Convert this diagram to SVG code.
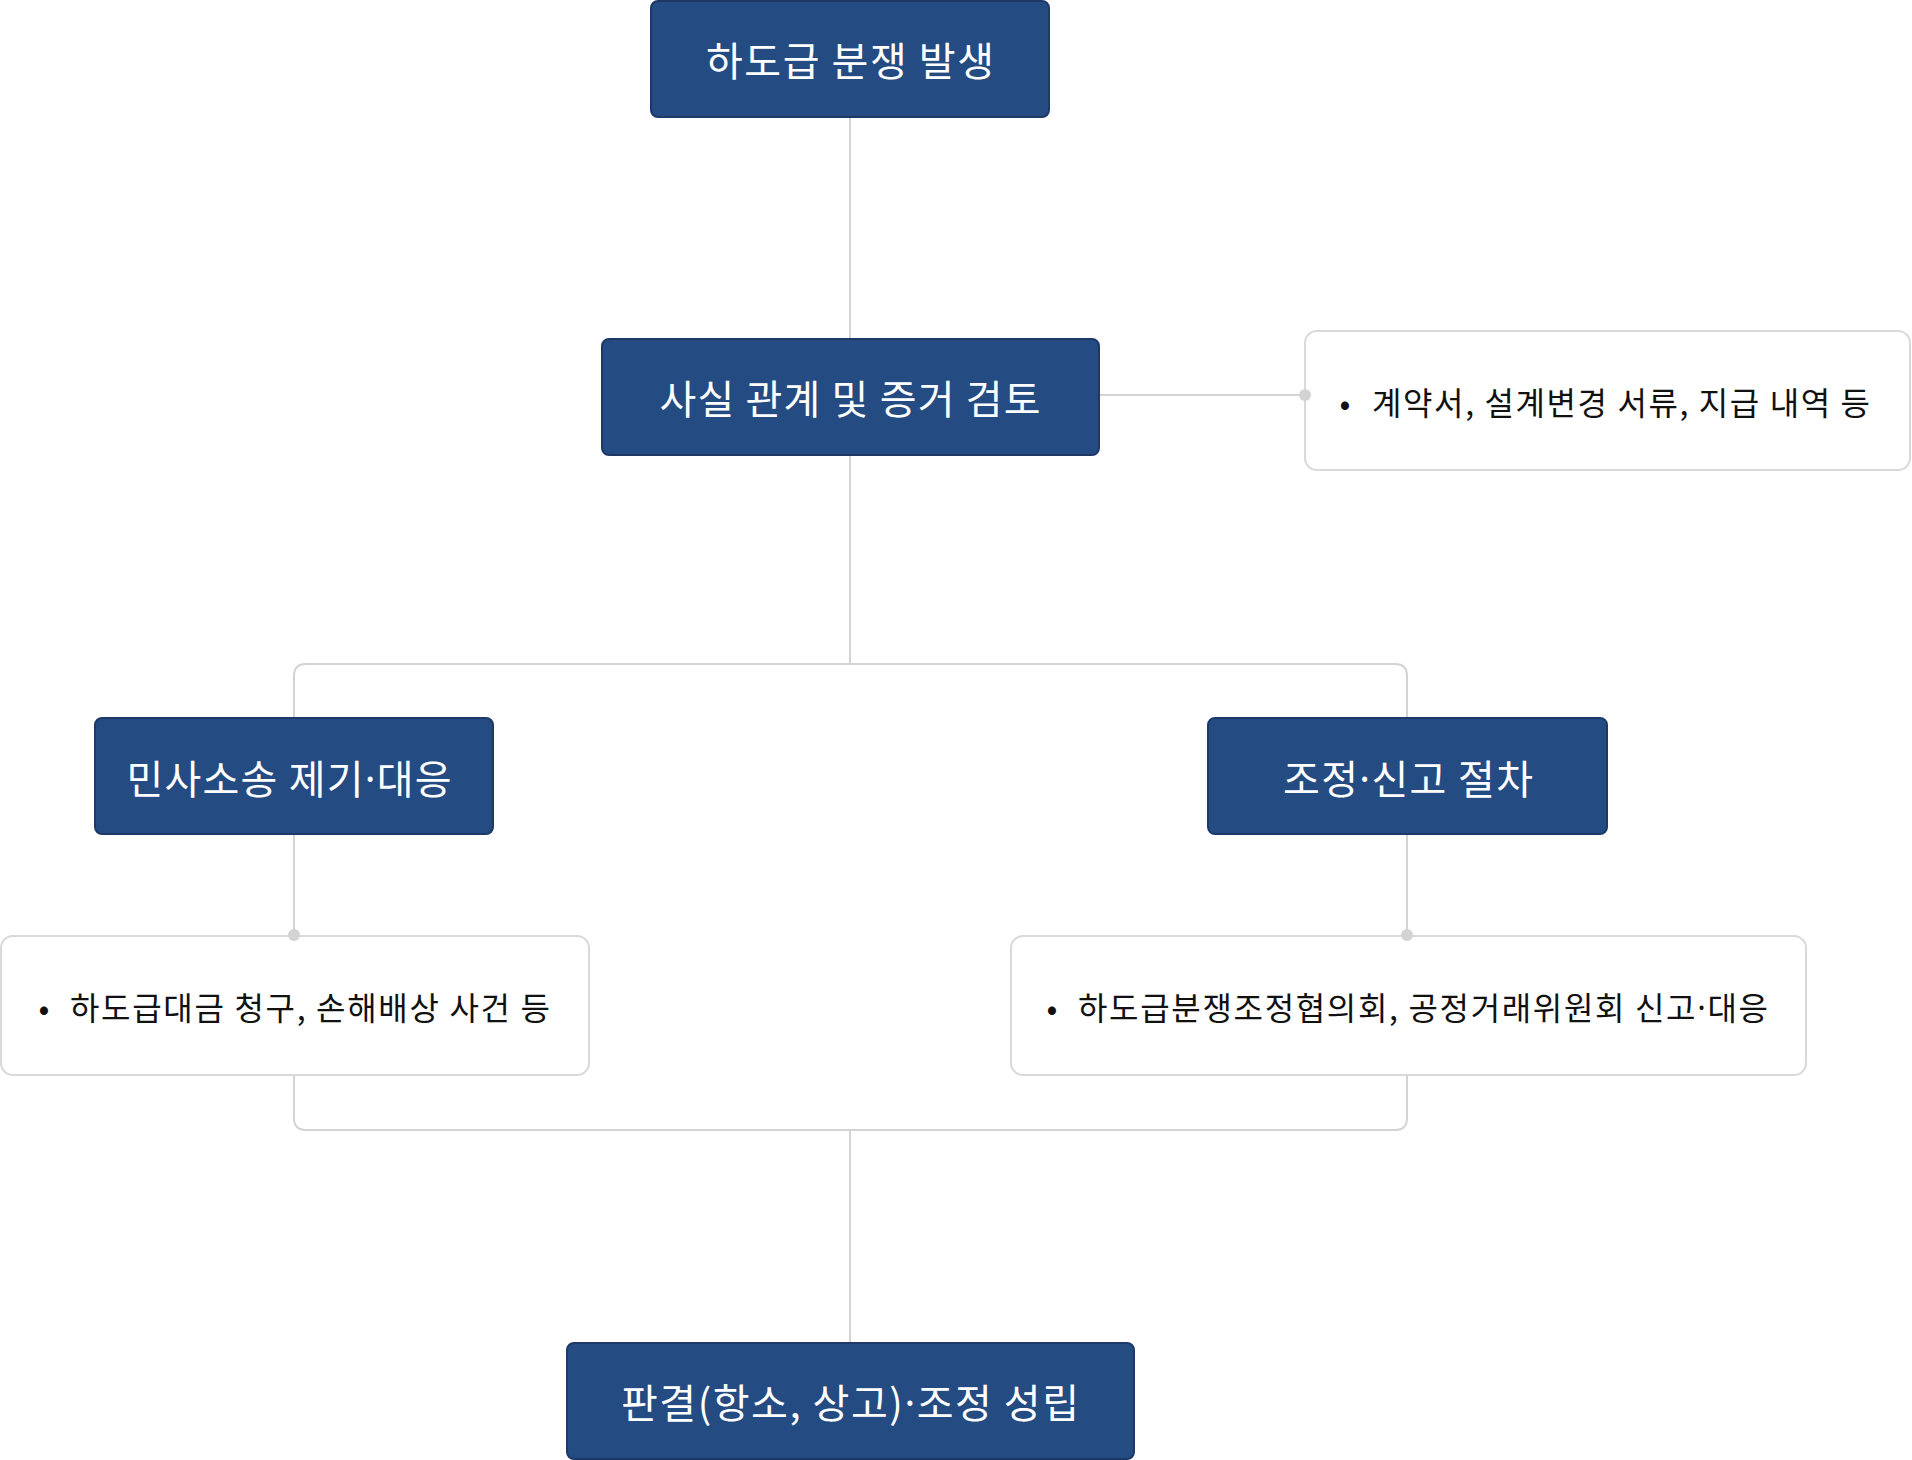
<svg xmlns="http://www.w3.org/2000/svg" width="1912" height="1460" viewBox="0 0 1912 1460">
<style>
.node rect{fill:#254b83;stroke:#1c3967;stroke-width:2}
.node text{fill:#ffffff;font-family:"Noto Sans CJK KR","Noto Sans",sans-serif;font-size:40px;text-anchor:middle;dominant-baseline:central}
.desc rect{fill:#ffffff;stroke:#d9d9d9;stroke-width:2}
.desc text{fill:#111111;font-family:"Noto Sans CJK KR","Noto Sans",sans-serif;font-size:32px;dominant-baseline:central}
.desc .b{text-anchor:middle}
.d{font-family:"Noto Sans","Liberation Sans",sans-serif}
.conn path{fill:none;stroke:#d3d3d3;stroke-width:2}
.conn circle{fill:#d3d3d3}
</style>
<rect width="1912" height="1460" fill="#ffffff"/>
<g id="node-dispute" class="node">
<rect x="651" y="1" width="398" height="116" rx="7"/>
<text x="850" y="59" textLength="288" lengthAdjust="spacing">하도급 분쟁 발생</text>
</g>
<g id="node-review" class="node">
<rect x="602" y="339" width="497" height="116" rx="7"/>
<text x="850" y="397" textLength="381" lengthAdjust="spacing">사실 관계 및 증거 검토</text>
</g>
<g id="desc-review" class="desc">
<rect x="1305" y="331" width="605" height="139" rx="12"/>
<text class="b" x="1345" y="401">•</text>
<text x="1372" y="401" textLength="498" lengthAdjust="spacing">계약서, 설계변경 서류, 지급 내역 등</text>
</g>
<g id="node-lawsuit" class="node">
<rect x="95" y="718" width="398" height="116" rx="7"/>
<text x="289" y="777" textLength="325" lengthAdjust="spacing">민사소송 제기<tspan class="d">·</tspan>대응</text>
</g>
<g id="node-mediation" class="node">
<rect x="1208" y="718" width="399" height="116" rx="7"/>
<text x="1408" y="777" textLength="250" lengthAdjust="spacing">조정<tspan class="d">·</tspan>신고 절차</text>
</g>
<g id="desc-lawsuit" class="desc">
<rect x="1" y="936" width="588" height="139" rx="12"/>
<text class="b" x="44" y="1006">•</text>
<text x="70" y="1006" textLength="480" lengthAdjust="spacing">하도급대금 청구, 손해배상 사건 등</text>
</g>
<g id="desc-mediation" class="desc">
<rect x="1011" y="936" width="795" height="139" rx="12"/>
<text class="b" x="1052" y="1006">•</text>
<text x="1078" y="1006" textLength="690" lengthAdjust="spacing">하도급분쟁조정협의회, 공정거래위원회 신고<tspan class="d">·</tspan>대응</text>
</g>
<g id="node-result" class="node">
<rect x="567" y="1343" width="567" height="116" rx="7"/>
<text x="850" y="1401" textLength="458" lengthAdjust="spacing">판결(항소, 상고)<tspan class="d">·</tspan>조정 성립</text>
</g>
<g id="connectors" class="conn">
<path d="M850,118 V338"/>
<path d="M850,456 V664"/>
<path d="M294,717 V676 Q294,664 306,664 H1395 Q1407,664 1407,676 V717"/>
<path d="M1100,395 H1305"/>
<circle cx="1305" cy="395" r="6"/>
<path d="M294,835 V935"/>
<circle cx="294" cy="935" r="6"/>
<path d="M1407,835 V935"/>
<circle cx="1407" cy="935" r="6"/>
<path d="M294,1076 V1118 Q294,1130 306,1130 H1395 Q1407,1130 1407,1118 V1076"/>
<path d="M850,1130 V1342"/>
</g>
</svg>
